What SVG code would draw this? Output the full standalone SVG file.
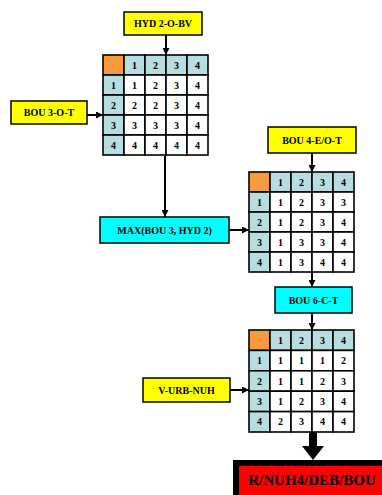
<svg xmlns="http://www.w3.org/2000/svg" width="382" height="495" viewBox="0 0 382 495">
  <style>
    text { font-family: "Liberation Serif", "Times New Roman", serif; font-weight: bold; fill: #000; text-anchor: middle; }
    .lbl { font-size: 10px; }
    .num { font-size: 10px; }
    .box { stroke: #000; stroke-width: 1.5; }
    .yellow { fill: #ffff00; }
    .cyan { fill: #00ffff; }
    .cell { fill: #ffffff; stroke: #000; stroke-width: 1.6; }
    .head { fill: #b7dde0; stroke: #000; stroke-width: 1.6; }
    .corner { fill: #f79a3c; stroke: #000; stroke-width: 1.6; }
    .conn { stroke: #000; stroke-width: 2; fill: none; marker-end: url(#arrow); }
  </style>
  <defs>
    <marker id="arrow" markerWidth="7" markerHeight="7" refX="7" refY="3.5" orient="auto" markerUnits="userSpaceOnUse">
      <path d="M0,0 L7,3.5 L0,7 z" fill="#000"/>
    </marker>
  </defs>

  <rect width="382" height="495" fill="#ffffff"/>

  <!-- input boxes -->
  <g id="hyd2">
    <rect class="box yellow" x="124" y="12" width="78" height="23"/>
    <text class="lbl" x="163" y="27">HYD 2-O-BV</text>
  </g>
  <g id="bou3">
    <rect class="box yellow" x="11" y="101" width="76" height="23"/>
    <text class="lbl" x="49" y="116">BOU 3-O-T</text>
  </g>
  <g id="maxbox">
    <rect class="box cyan" x="100" y="217" width="129" height="26"/>
    <text class="lbl" x="164.5" y="234">MAX(BOU 3, HYD 2)</text>
  </g>
  <g id="bou4">
    <rect class="box yellow" x="268" y="127" width="88" height="26"/>
    <text class="lbl" x="312" y="144">BOU 4-E/O-T</text>
  </g>
  <g id="bou6">
    <rect class="box cyan" x="275" y="287" width="77" height="26"/>
    <text class="lbl" x="313.5" y="304">BOU 6-C-T</text>
  </g>
  <g id="vurb">
    <rect class="box yellow" x="143" y="378" width="87" height="24"/>
    <text class="lbl" x="186.5" y="394">V-URB-NUH</text>
  </g>

  <!-- matrix 1 -->
  <g id="matrix1" transform="translate(103,55)">
    <rect class="corner" x="0" y="0" width="21" height="20"/>
    <rect class="head" x="21" y="0" width="21" height="20"/><rect class="head" x="42" y="0" width="21" height="20"/>
    <rect class="head" x="63" y="0" width="21" height="20"/><rect class="head" x="84" y="0" width="21" height="20"/>
    <rect class="head" x="0" y="20" width="21" height="20"/><rect class="head" x="0" y="40" width="21" height="20"/>
    <rect class="head" x="0" y="60" width="21" height="20"/><rect class="head" x="0" y="80" width="21" height="20"/>
    <rect class="cell" x="21" y="20" width="21" height="20"/><rect class="cell" x="42" y="20" width="21" height="20"/><rect class="cell" x="63" y="20" width="21" height="20"/><rect class="cell" x="84" y="20" width="21" height="20"/>
    <rect class="cell" x="21" y="40" width="21" height="20"/><rect class="cell" x="42" y="40" width="21" height="20"/><rect class="cell" x="63" y="40" width="21" height="20"/><rect class="cell" x="84" y="40" width="21" height="20"/>
    <rect class="cell" x="21" y="60" width="21" height="20"/><rect class="cell" x="42" y="60" width="21" height="20"/><rect class="cell" x="63" y="60" width="21" height="20"/><rect class="cell" x="84" y="60" width="21" height="20"/>
    <rect class="cell" x="21" y="80" width="21" height="20"/><rect class="cell" x="42" y="80" width="21" height="20"/><rect class="cell" x="63" y="80" width="21" height="20"/><rect class="cell" x="84" y="80" width="21" height="20"/>
    <text class="num" x="31.5" y="13.5">1</text><text class="num" x="52.5" y="13.5">2</text><text class="num" x="73.5" y="13.5">3</text><text class="num" x="94.5" y="13.5">4</text>
    <text class="num" x="10.5" y="33.5">1</text><text class="num" x="31.5" y="33.5">1</text><text class="num" x="52.5" y="33.5">2</text><text class="num" x="73.5" y="33.5">3</text><text class="num" x="94.5" y="33.5">4</text>
    <text class="num" x="10.5" y="53.5">2</text><text class="num" x="31.5" y="53.5">2</text><text class="num" x="52.5" y="53.5">2</text><text class="num" x="73.5" y="53.5">3</text><text class="num" x="94.5" y="53.5">4</text>
    <text class="num" x="10.5" y="73.5">3</text><text class="num" x="31.5" y="73.5">3</text><text class="num" x="52.5" y="73.5">3</text><text class="num" x="73.5" y="73.5">3</text><text class="num" x="94.5" y="73.5">4</text>
    <text class="num" x="10.5" y="93.5">4</text><text class="num" x="31.5" y="93.5">4</text><text class="num" x="52.5" y="93.5">4</text><text class="num" x="73.5" y="93.5">4</text><text class="num" x="94.5" y="93.5">4</text>
  </g>

  <!-- matrix 2 -->
  <g id="matrix2" transform="translate(249,172)">
    <rect class="corner" x="0" y="0" width="21" height="20"/>
    <rect class="head" x="21" y="0" width="21" height="20"/><rect class="head" x="42" y="0" width="21" height="20"/>
    <rect class="head" x="63" y="0" width="21" height="20"/><rect class="head" x="84" y="0" width="21" height="20"/>
    <rect class="head" x="0" y="20" width="21" height="20"/><rect class="head" x="0" y="40" width="21" height="20"/>
    <rect class="head" x="0" y="60" width="21" height="20"/><rect class="head" x="0" y="80" width="21" height="20"/>
    <rect class="cell" x="21" y="20" width="21" height="20"/><rect class="cell" x="42" y="20" width="21" height="20"/><rect class="cell" x="63" y="20" width="21" height="20"/><rect class="cell" x="84" y="20" width="21" height="20"/>
    <rect class="cell" x="21" y="40" width="21" height="20"/><rect class="cell" x="42" y="40" width="21" height="20"/><rect class="cell" x="63" y="40" width="21" height="20"/><rect class="cell" x="84" y="40" width="21" height="20"/>
    <rect class="cell" x="21" y="60" width="21" height="20"/><rect class="cell" x="42" y="60" width="21" height="20"/><rect class="cell" x="63" y="60" width="21" height="20"/><rect class="cell" x="84" y="60" width="21" height="20"/>
    <rect class="cell" x="21" y="80" width="21" height="20"/><rect class="cell" x="42" y="80" width="21" height="20"/><rect class="cell" x="63" y="80" width="21" height="20"/><rect class="cell" x="84" y="80" width="21" height="20"/>
    <text class="num" x="31.5" y="13.5">1</text><text class="num" x="52.5" y="13.5">2</text><text class="num" x="73.5" y="13.5">3</text><text class="num" x="94.5" y="13.5">4</text>
    <text class="num" x="10.5" y="33.5">1</text><text class="num" x="31.5" y="33.5">1</text><text class="num" x="52.5" y="33.5">2</text><text class="num" x="73.5" y="33.5">3</text><text class="num" x="94.5" y="33.5">3</text>
    <text class="num" x="10.5" y="53.5">2</text><text class="num" x="31.5" y="53.5">1</text><text class="num" x="52.5" y="53.5">2</text><text class="num" x="73.5" y="53.5">3</text><text class="num" x="94.5" y="53.5">4</text>
    <text class="num" x="10.5" y="73.5">3</text><text class="num" x="31.5" y="73.5">1</text><text class="num" x="52.5" y="73.5">3</text><text class="num" x="73.5" y="73.5">3</text><text class="num" x="94.5" y="73.5">4</text>
    <text class="num" x="10.5" y="93.5">4</text><text class="num" x="31.5" y="93.5">1</text><text class="num" x="52.5" y="93.5">3</text><text class="num" x="73.5" y="93.5">4</text><text class="num" x="94.5" y="93.5">4</text>
  </g>

  <!-- matrix 3 -->
  <g id="matrix3" transform="translate(249,330)">
    <rect class="corner" x="0" y="0" width="21" height="20.4"/>
    <rect class="head" x="21" y="0" width="21" height="20.4"/><rect class="head" x="42" y="0" width="21" height="20.4"/>
    <rect class="head" x="63" y="0" width="21" height="20.4"/><rect class="head" x="84" y="0" width="21" height="20.4"/>
    <rect class="head" x="0" y="20.4" width="21" height="20.4"/><rect class="head" x="0" y="40.8" width="21" height="20.4"/>
    <rect class="head" x="0" y="61.2" width="21" height="20.4"/><rect class="head" x="0" y="81.6" width="21" height="20.4"/>
    <rect class="cell" x="21" y="20.4" width="21" height="20.4"/><rect class="cell" x="42" y="20.4" width="21" height="20.4"/><rect class="cell" x="63" y="20.4" width="21" height="20.4"/><rect class="cell" x="84" y="20.4" width="21" height="20.4"/>
    <rect class="cell" x="21" y="40.8" width="21" height="20.4"/><rect class="cell" x="42" y="40.8" width="21" height="20.4"/><rect class="cell" x="63" y="40.8" width="21" height="20.4"/><rect class="cell" x="84" y="40.8" width="21" height="20.4"/>
    <rect class="cell" x="21" y="61.2" width="21" height="20.4"/><rect class="cell" x="42" y="61.2" width="21" height="20.4"/><rect class="cell" x="63" y="61.2" width="21" height="20.4"/><rect class="cell" x="84" y="61.2" width="21" height="20.4"/>
    <rect class="cell" x="21" y="81.6" width="21" height="20.4"/><rect class="cell" x="42" y="81.6" width="21" height="20.4"/><rect class="cell" x="63" y="81.6" width="21" height="20.4"/><rect class="cell" x="84" y="81.6" width="21" height="20.4"/>
    <text class="num" x="31.5" y="13.7">1</text><text class="num" x="52.5" y="13.7">2</text><text class="num" x="73.5" y="13.7">3</text><text class="num" x="94.5" y="13.7">4</text>
    <text class="num" x="10.5" y="34.1">1</text><text class="num" x="31.5" y="34.1">1</text><text class="num" x="52.5" y="34.1">1</text><text class="num" x="73.5" y="34.1">1</text><text class="num" x="94.5" y="34.1">2</text>
    <text class="num" x="10.5" y="54.5">2</text><text class="num" x="31.5" y="54.5">1</text><text class="num" x="52.5" y="54.5">1</text><text class="num" x="73.5" y="54.5">2</text><text class="num" x="94.5" y="54.5">3</text>
    <text class="num" x="10.5" y="74.9">3</text><text class="num" x="31.5" y="74.9">1</text><text class="num" x="52.5" y="74.9">2</text><text class="num" x="73.5" y="74.9">3</text><text class="num" x="94.5" y="74.9">4</text>
    <text class="num" x="10.5" y="95.3">4</text><text class="num" x="31.5" y="95.3">2</text><text class="num" x="52.5" y="95.3">3</text><text class="num" x="73.5" y="95.3">4</text><text class="num" x="94.5" y="95.3">4</text>
  </g>

  <!-- result box -->
  <g id="result">
    <rect x="236" y="463" width="150" height="40" fill="#ff0000" stroke="#000" stroke-width="6"/>
    <text x="312" y="485" font-size="15">R/NUH4/DEB/BOU</text>
  </g>

  <!-- connectors -->
  <g id="connectors">
    <line class="conn" x1="166" y1="35" x2="166" y2="55"/>
    <line class="conn" x1="87" y1="115" x2="103" y2="115"/>
    <line class="conn" x1="165" y1="156" x2="165" y2="217"/>
    <line class="conn" x1="229" y1="230" x2="249" y2="230"/>
    <line class="conn" x1="312" y1="153" x2="312" y2="172"/>
    <line class="conn" x1="312" y1="272" x2="312" y2="287"/>
    <line class="conn" x1="312" y1="313" x2="312" y2="330"/>
    <line class="conn" x1="230" y1="390" x2="249" y2="390"/>
    <path d="M309,432 L317,432 L317,446 L324,446 L313,460 L302,446 L309,446 Z" fill="#000"/>
  </g>
</svg>
